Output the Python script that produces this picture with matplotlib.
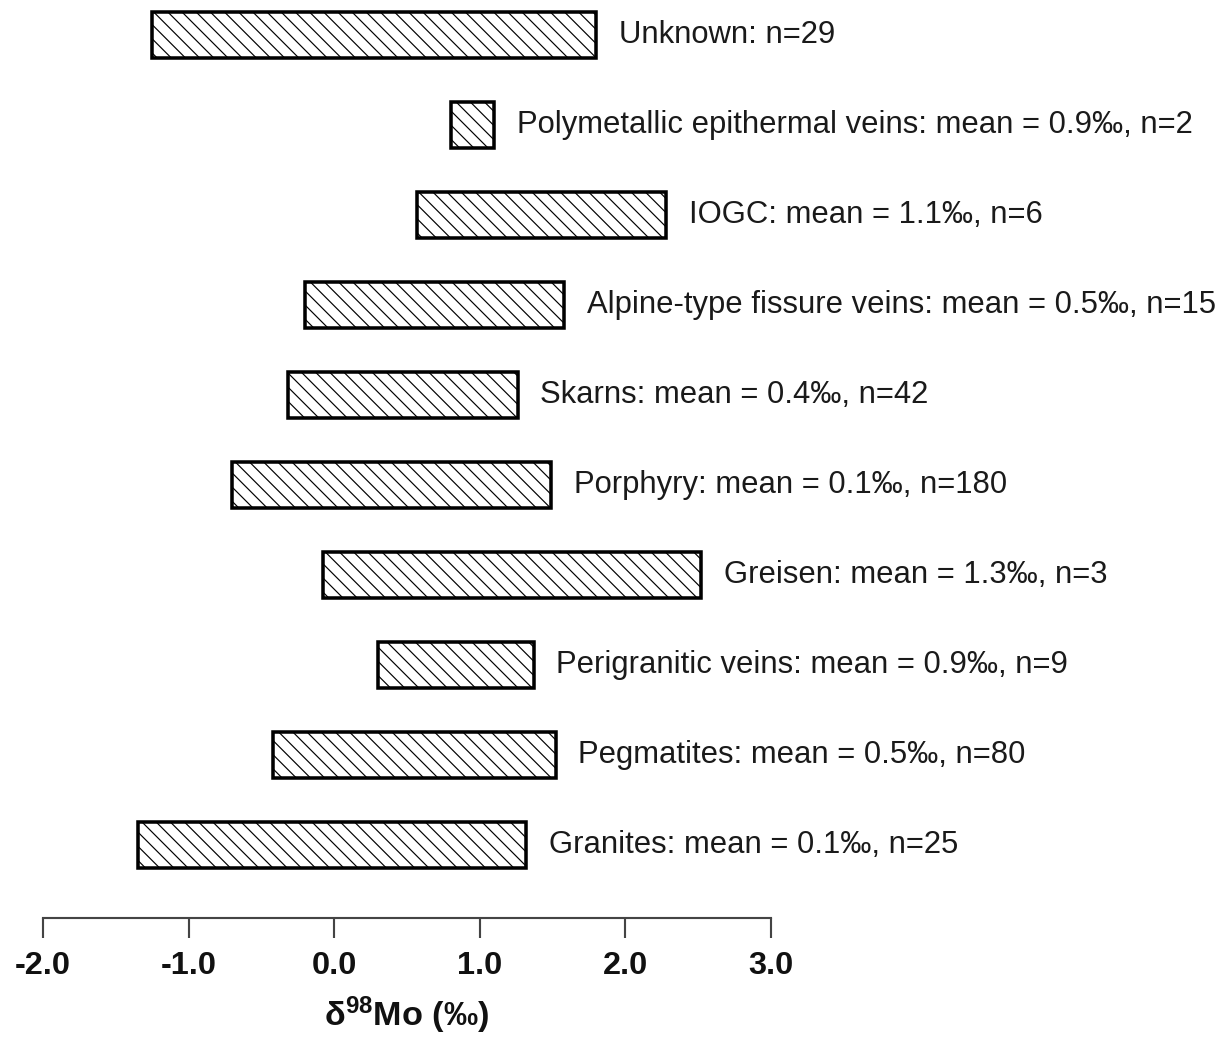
import numpy as np
import matplotlib
matplotlib.use("Agg")
import matplotlib.pyplot as plt

# Mo isotope ranges by deposit type (bottom row first)
categories = ["Granites", "Pegmatites", "Perigranitic veins", "Greisen", "Porphyry",
              "Skarns", "Alpine-type fissure veins", "IOGC",
              "Polymetallic epithermal veins", "Unknown"]
range_min = [-1.35, -0.42, 0.30, -0.08, -0.70, -0.32, -0.20, 0.57, 0.80, -1.25]
range_max = [1.32, 1.52, 1.37, 2.52, 1.49, 1.26, 1.58, 2.28, 1.10, 1.80]
means = [0.1, 0.5, 0.9, 1.3, 0.1, 0.4, 0.5, 1.1, 0.9, None]
counts = [25, 80, 9, 3, 180, 42, 15, 6, 2, 29]
xticks = [-2.0, -1.0, 0.0, 1.0, 2.0, 3.0]

DPI = 85
plt.rcParams["font.family"] = ["Liberation Sans", "DejaVu Sans"]
plt.rcParams["mathtext.fontset"] = "custom"
plt.rcParams["mathtext.rm"] = "Liberation Sans"
plt.rcParams["mathtext.bf"] = "Liberation Sans:bold"
plt.rcParams["mathtext.default"] = "bf"
plt.rcParams["hatch.linewidth"] = 1.0
plt.rcParams["hatch.color"] = "#111111"

fig = plt.figure(figsize=(1225 / DPI, 1038 / DPI), dpi=DPI)
ax = fig.add_axes([43 / 1225, 120 / 1038, 728 / 1225, 910 / 1038])

y = np.arange(len(categories))
lo = np.array(range_min)
hi = np.array(range_max)
ax.barh(y, hi - lo, left=lo, height=0.51, color="white", edgecolor="black",
        linewidth=3.0, hatch="\\\\")

for yi, cat, m, n, right in zip(y, categories, means, counts, hi):
    if m is None:
        label = f"{cat}: n={n}"
    else:
        label = f"{cat}: mean = {m:.1f}‰, n={n}"
    ax.annotate(label, xy=(right, yi), xytext=(19, 0), textcoords="offset points",
                ha="left", va="center", fontsize=26.3, color="#1a1a1a",
                annotation_clip=False)

ax.set_xlim(-2.0, 3.0)
ax.set_ylim(-0.811, 9.3)
ax.set_yticks([])
for side in ["left", "top", "right"]:
    ax.spines[side].set_visible(False)
ax.spines["bottom"].set_color("#444444")
ax.spines["bottom"].set_linewidth(1.8)
ax.set_xticks(xticks)
ax.set_xticklabels([f"{t:.1f}" for t in xticks], fontsize=27.5, fontweight="bold",
                   color="#111111")
ax.tick_params(axis="x", direction="out", length=17, width=1.8, color="#444444",
               pad=11)
ax.set_xlabel(r"$\delta^{98}$Mo (‰)", fontsize=29, fontweight="bold",
              color="#111111", labelpad=11)

fig.savefig("out.png", dpi=DPI)
